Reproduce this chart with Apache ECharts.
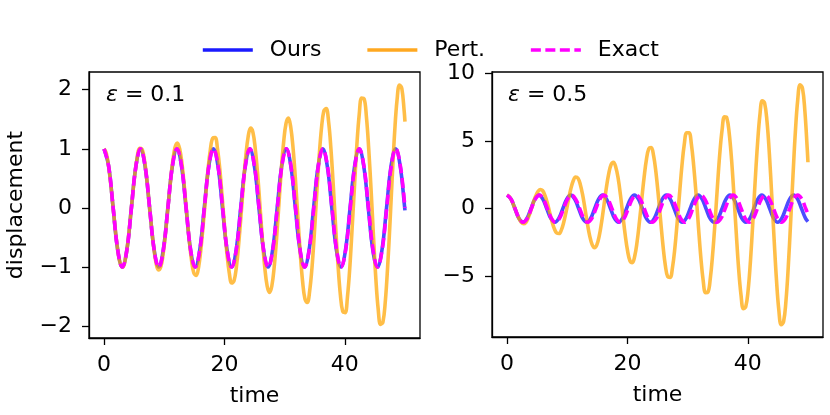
<!DOCTYPE html>
<html>
<head>
<meta charset="utf-8">
<script src="https://cdn.jsdelivr.net/npm/echarts@6/dist/echarts.min.js"></script>
<style>
html, body { margin: 0; padding: 0; background: #fff; }
#chart { width: 830px; height: 415px; }
</style>
</head>
<body>
<div id="chart"></div>
<script>
// ---- data ----
// eps = 0.1 (left panel)
var timeOursA = [0, 0.76, 1.51, 2.27, 3.03, 3.79, 4.54, 5.30, 6.06, 6.81, 7.57, 8.33, 9.08, 9.84, 10.60, 11.36, 12.11, 12.87, 13.63, 14.38, 15.14, 15.90, 16.65, 17.41, 18.17, 18.93, 19.68, 20.44, 21.20, 21.95, 22.71, 23.47, 24.22, 24.98, 25.74, 26.50, 27.25, 28.01, 28.77, 29.52, 30.28, 31.04, 31.79, 32.55, 33.31, 34.07, 34.82, 35.58, 36.34, 37.09, 37.85, 38.61, 39.37, 40.12, 40.88, 41.64, 42.39, 43.15, 43.91, 44.66, 45.42, 46.18, 46.94, 47.69, 48.45, 49.21, 49.96, 50];
var dispOursA = [1, 0.71, 0, -0.71, -1, -0.71, 0, 0.71, 1, 0.71, 0, -0.71, -1, -0.71, 0, 0.71, 1, 0.71, 0, -0.71, -1, -0.71, 0, 0.71, 1, 0.71, 0, -0.71, -1, -0.71, 0, 0.71, 1, 0.71, 0, -0.71, -1, -0.71, 0, 0.71, 1, 0.71, 0, -0.71, -1, -0.71, 0, 0.71, 1, 0.71, 0, -0.71, -1, -0.71, 0, 0.71, 1, 0.71, 0, -0.71, -1, -0.71, 0, 0.71, 1, 0.71, 0, -0.04];
var timeExactA = [0, 0.76, 1.52, 2.27, 3.03, 3.79, 4.55, 5.30, 6.06, 6.82, 7.58, 8.33, 9.09, 9.85, 10.61, 11.36, 12.12, 12.88, 13.64, 14.39, 15.15, 15.91, 16.67, 17.42, 18.18, 18.94, 19.70, 20.45, 21.21, 21.97, 22.73, 23.48, 24.24, 25.00, 25.76, 26.52, 27.27, 28.03, 28.79, 29.55, 30.30, 31.06, 31.82, 32.58, 33.33, 34.09, 34.85, 35.61, 36.36, 37.12, 37.88, 38.64, 39.39, 40.15, 40.91, 41.67, 42.42, 43.18, 43.94, 44.70, 45.45, 46.21, 46.97, 47.73, 48.48, 49.24, 50];
var dispExactA = [1, 0.71, 0, -0.71, -1, -0.71, 0, 0.71, 1, 0.71, 0, -0.71, -1, -0.71, 0, 0.71, 1, 0.71, 0, -0.71, -1, -0.71, 0, 0.71, 1, 0.71, 0, -0.71, -1, -0.71, 0, 0.71, 1, 0.71, 0, -0.71, -1, -0.71, 0, 0.71, 1, 0.71, 0, -0.71, -1, -0.71, 0, 0.71, 1, 0.71, 0, -0.71, -1, -0.71, 0, 0.71, 1, 0.71, 0, -0.71, -1, -0.71, 0, 0.71, 1, 0.71, 0];

// perturbation curves share one time grid
var timePert = [
    0, 0.39, 0.79, 1.18, 1.57, 1.96, 2.36, 2.75, 3.14, 3.53, 3.93, 4.32, 4.71, 5.11, 5.50, 5.89,
    6.28, 6.68, 7.07, 7.46, 7.85, 8.25, 8.64, 9.03, 9.42, 9.82, 10.21, 10.60, 11.00, 11.39, 11.78, 12.17,
    12.57, 12.96, 13.35, 13.74, 14.14, 14.53, 14.92, 15.32, 15.71, 16.10, 16.49, 16.89, 17.28, 17.67, 18.06, 18.46,
    18.85, 19.24, 19.63, 20.03, 20.42, 20.81, 21.21, 21.60, 21.99, 22.38, 22.78, 23.17, 23.56, 23.95, 24.35, 24.74,
    25.13, 25.53, 25.92, 26.31, 26.70, 27.10, 27.49, 27.88, 28.27, 28.67, 29.06, 29.45, 29.85, 30.24, 30.63, 31.02,
    31.42, 31.81, 32.20, 32.59, 32.99, 33.38, 33.77, 34.16, 34.56, 34.95, 35.34, 35.74, 36.13, 36.52, 36.91, 37.31,
    37.70, 38.09, 38.48, 38.88, 39.27, 39.66, 40.06, 40.45, 40.84, 41.23, 41.63, 42.02, 42.41, 42.80, 43.20, 43.59,
    43.98, 44.38, 44.77, 45.16, 45.55, 45.95, 46.34, 46.73, 47.12, 47.52, 47.91, 48.30, 48.69, 49.09, 49.48, 49.87,
    50];
var dispPertA = [
    1, 0.92, 0.68, 0.34, -0.06, -0.45, -0.77, -0.96, -1, -0.87, -0.60, -0.23, 0.18, 0.56, 0.85, 1.01,
    1, 0.83, 0.52, 0.12, -0.29, -0.66, -0.93, -1.05, -1, -0.78, -0.43, -0.01, 0.41, 0.77, 1.02, 1.10,
    1, 0.74, 0.35, -0.10, -0.53, -0.88, -1.10, -1.14, -1, -0.69, -0.27, 0.21, 0.65, 0.99, 1.18, 1.19,
    1, 0.65, 0.18, -0.32, -0.77, -1.10, -1.27, -1.23, -1, -0.60, -0.10, 0.42, 0.88, 1.21, 1.35, 1.28,
    1, 0.56, 0.02, -0.53, -1.00, -1.32, -1.43, -1.32, -1, -0.51, 0.07, 0.64, 1.12, 1.43, 1.52, 1.37,
    1, 0.47, -0.15, -0.75, -1.24, -1.54, -1.60, -1.41, -1, -0.42, 0.24, 0.86, 1.35, 1.64, 1.68, 1.46,
    1, 0.38, -0.32, -0.97, -1.47, -1.75, -1.77, -1.50, -1, -0.33, 0.40, 1.08, 1.59, 1.86, 1.85, 1.55,
    1, 0.29, -0.48, -1.19, -1.71, -1.97, -1.93, -1.59, -1, -0.24, 0.57, 1.30, 1.83, 2.08, 2.02, 1.64,
    1.46];
var dispPertB = [
    1, 0.89, 0.58, 0.16, -0.29, -0.70, -1.00, -1.11, -1, -0.66, -0.16, 0.39, 0.88, 1.25, 1.41, 1.34,
    1, 0.44, -0.25, -0.93, -1.47, -1.79, -1.83, -1.56, -1, -0.21, 0.67, 1.47, 2.06, 2.34, 2.25, 1.79,
    1, -0.02, -1.09, -2.02, -2.65, -2.88, -2.66, -2.01, -1, 0.24, 1.50, 2.56, 3.24, 3.42, 3.08, 2.24,
    1, -0.47, -1.92, -3.11, -3.83, -3.97, -3.50, -2.47, -1, 0.69, 2.34, 3.65, 4.42, 4.51, 3.91, 2.69,
    1, -0.92, -2.75, -4.20, -5.01, -5.06, -4.33, -2.92, -1, 1.14, 3.17, 4.74, 5.60, 5.60, 4.75, 3.14,
    1, -1.37, -3.58, -5.28, -6.19, -6.15, -5.16, -3.37, -1, 1.59, 4.00, 5.83, 6.77, 6.69, 5.58, 3.59,
    1, -1.82, -4.42, -6.37, -7.36, -7.23, -6.00, -3.82, -1, 2.04, 4.83, 6.92, 7.95, 7.78, 6.41, 4.04,
    1, -2.27, -5.25, -7.46, -8.54, -8.32, -6.83, -4.27, -1, 2.49, 5.67, 8.01, 9.13, 8.87, 7.25, 4.49,
    3.42];

// eps = 0.5 (right panel)
var timeOursB = [0, 0.66, 1.32, 1.98, 2.65, 3.31, 3.97, 4.63, 5.29, 5.95, 6.61, 7.28, 7.94, 8.60, 9.26, 9.92, 10.58, 11.24, 11.91, 12.57, 13.23, 13.89, 14.55, 15.21, 15.87, 16.53, 17.20, 17.86, 18.52, 19.18, 19.84, 20.50, 21.16, 21.83, 22.49, 23.15, 23.81, 24.47, 25.13, 25.79, 26.46, 27.12, 27.78, 28.44, 29.10, 29.76, 30.42, 31.09, 31.75, 32.41, 33.07, 33.73, 34.39, 35.05, 35.72, 36.38, 37.04, 37.70, 38.36, 39.02, 39.68, 40.35, 41.01, 41.67, 42.33, 42.99, 43.65, 44.31, 44.97, 45.64, 46.30, 46.96, 47.62, 48.28, 48.94, 49.60, 50];
var dispOursB = [1, 0.71, 0, -0.71, -1, -0.71, 0, 0.71, 1, 0.71, 0, -0.71, -1, -0.71, 0, 0.71, 1, 0.71, 0, -0.71, -1, -0.71, 0, 0.71, 1, 0.71, 0, -0.71, -1, -0.71, 0, 0.71, 1, 0.71, 0, -0.71, -1, -0.71, 0, 0.71, 1, 0.71, 0, -0.71, -1, -0.71, 0, 0.71, 1, 0.71, 0, -0.71, -1, -0.71, 0, 0.71, 1, 0.71, 0, -0.71, -1, -0.71, 0, 0.71, 1, 0.71, 0, -0.71, -1, -0.71, 0, 0.71, 1, 0.71, 0, -0.71, -0.95];
var timeExactB = [0, 0.67, 1.34, 2.01, 2.68, 3.35, 4.03, 4.70, 5.37, 6.04, 6.71, 7.38, 8.05, 8.72, 9.39, 10.06, 10.73, 11.40, 12.08, 12.75, 13.42, 14.09, 14.76, 15.43, 16.10, 16.77, 17.44, 18.11, 18.78, 19.45, 20.13, 20.80, 21.47, 22.14, 22.81, 23.48, 24.15, 24.82, 25.49, 26.16, 26.83, 27.50, 28.18, 28.85, 29.52, 30.19, 30.86, 31.53, 32.20, 32.87, 33.54, 34.21, 34.88, 35.55, 36.23, 36.90, 37.57, 38.24, 38.91, 39.58, 40.25, 40.92, 41.59, 42.26, 42.93, 43.60, 44.28, 44.95, 45.62, 46.29, 46.96, 47.63, 48.30, 48.97, 49.64, 50];
var dispExactB = [1, 0.71, 0, -0.71, -1, -0.71, 0, 0.71, 1, 0.71, 0, -0.71, -1, -0.71, 0, 0.71, 1, 0.71, 0, -0.71, -1, -0.71, 0, 0.71, 1, 0.71, 0, -0.71, -1, -0.71, 0, 0.71, 1, 0.71, 0, -0.71, -1, -0.71, 0, 0.71, 1, 0.71, 0, -0.71, -1, -0.71, 0, 0.71, 1, 0.71, 0, -0.71, -1, -0.71, 0, 0.71, 1, 0.71, 0, -0.71, -1, -0.71, 0, 0.71, 1, 0.71, 0, -0.71, -1, -0.71, 0, 0.71, 1, 0.71, 0, -0.41];

var timeTicks = [0, 20, 40];
var dispTicksA = [-2, -1, 0, 1, 2];
var dispTicksB = [-5, 0, 5, 10];

// ---- helpers ----
function pairs(ts, ys) {
    var out = [];
    for (var i = 0; i < ts.length; i++) out.push([ts[i], ys[i]]);
    return out;
}
function minus(v) { return String(v).replace('-', '\u2212'); }

var FONT = 'DejaVu Sans';
var FS = 22;
var LW = 3.6;
var DASH = [10, 4.5];
var BLUE = 'rgba(0,0,255,0.7)';
var ORANGE = 'rgba(255,165,0,0.72)';
var MAGENTA = '#ff00ff';

function xAxisFor(idx) {
    return {
        type: 'value', gridIndex: idx, min: -2.5, max: 52.5,
        name: 'time', nameLocation: 'middle', nameGap: 47,
        nameTextStyle: { fontFamily: FONT, fontSize: FS, color: '#000' },
        axisLine: { show: true, onZero: false, lineStyle: { color: '#000', width: 1.3 } },
        axisTick: { show: true, length: 7, customValues: timeTicks, lineStyle: { color: '#000', width: 1.3 } },
        axisLabel: { customValues: timeTicks, margin: 16, fontFamily: FONT, fontSize: FS, color: '#000', formatter: minus },
        splitLine: { show: false }
    };
}
function yAxisFor(idx, lo, hi, ticks, name) {
    return {
        type: 'value', gridIndex: idx, min: lo, max: hi,
        name: name, nameLocation: 'middle', nameGap: 62,
        nameTextStyle: { fontFamily: FONT, fontSize: FS, color: '#000' },
        axisLine: { show: true, onZero: false, lineStyle: { color: '#000', width: 1.3 } },
        axisTick: { show: true, length: 7, customValues: ticks, lineStyle: { color: '#000', width: 1.3 } },
        axisLabel: { customValues: ticks, margin: 17, fontFamily: FONT, fontSize: FS, color: '#000', formatter: minus },
        splitLine: { show: false }
    };
}
function lineSeries(name, idx, data, color, dashed) {
    return {
        name: name, type: 'line', xAxisIndex: idx, yAxisIndex: idx,
        data: data, smooth: 0.4, symbol: 'none', showSymbol: false,
        animation: false, silent: true,
        lineStyle: { color: color, width: LW, type: dashed ? DASH : 'solid' },
        itemStyle: { color: color }
    };
}

var chart = echarts.init(document.getElementById('chart'));

var option = {
    backgroundColor: '#fff',
    animation: false,
    textStyle: { fontFamily: FONT },
    title: [
        { text: '{e|\u03b5} = 0.1', left: 101, top: 79,
          textStyle: { fontFamily: FONT, fontSize: FS, fontWeight: 'normal', color: '#000',
                       rich: { e: { fontFamily: FONT, fontSize: FS, fontStyle: 'italic', color: '#000' } } } },
        { text: '{e|\u03b5} = 0.5', left: 503, top: 79,
          textStyle: { fontFamily: FONT, fontSize: FS, fontWeight: 'normal', color: '#000',
                       rich: { e: { fontFamily: FONT, fontSize: FS, fontStyle: 'italic', color: '#000' } } } }
    ],
    legend: {
        left: 196, top: 34,
        itemWidth: 50, itemHeight: 14, itemGap: 44,
        itemStyle: { opacity: 0 },
        textStyle: { fontFamily: FONT, fontSize: FS, color: '#000', padding: [0, 0, 0, 12] },
        data: [
            { name: 'Ours', lineStyle: { color: '#1a1aff', width: LW } },
            { name: 'Pert.', lineStyle: { color: '#ffa820', width: LW } },
            { name: 'Exact', lineStyle: { color: MAGENTA, width: LW, type: DASH } }
        ]
    },
    grid: [
        { left: 89, right: 410, top: 72, bottom: 77, show: true, borderColor: '#000', borderWidth: 1.3, backgroundColor: 'transparent' },
        { left: 492, right: 7, top: 72, bottom: 78, show: true, borderColor: '#000', borderWidth: 1.3, backgroundColor: 'transparent' }
    ],
    xAxis: [xAxisFor(0), xAxisFor(1)],
    yAxis: [
        yAxisFor(0, -2.2, 2.3, dispTicksA, 'displacement'),
        yAxisFor(1, -9.45, 10.07, dispTicksB, '')
    ],
    series: [
        lineSeries('Ours', 0, pairs(timeOursA, dispOursA), BLUE, false),
        lineSeries('Pert.', 0, pairs(timePert, dispPertA), ORANGE, false),
        lineSeries('Exact', 0, pairs(timeExactA, dispExactA), MAGENTA, true),
        lineSeries('Ours', 1, pairs(timeOursB, dispOursB), BLUE, false),
        lineSeries('Pert.', 1, pairs(timePert, dispPertB), ORANGE, false),
        lineSeries('Exact', 1, pairs(timeExactB, dispExactB), MAGENTA, true)
    ]
};

chart.setOption(option);
window.onresize = function () { chart.resize(); };
</script>
</body>
</html>
